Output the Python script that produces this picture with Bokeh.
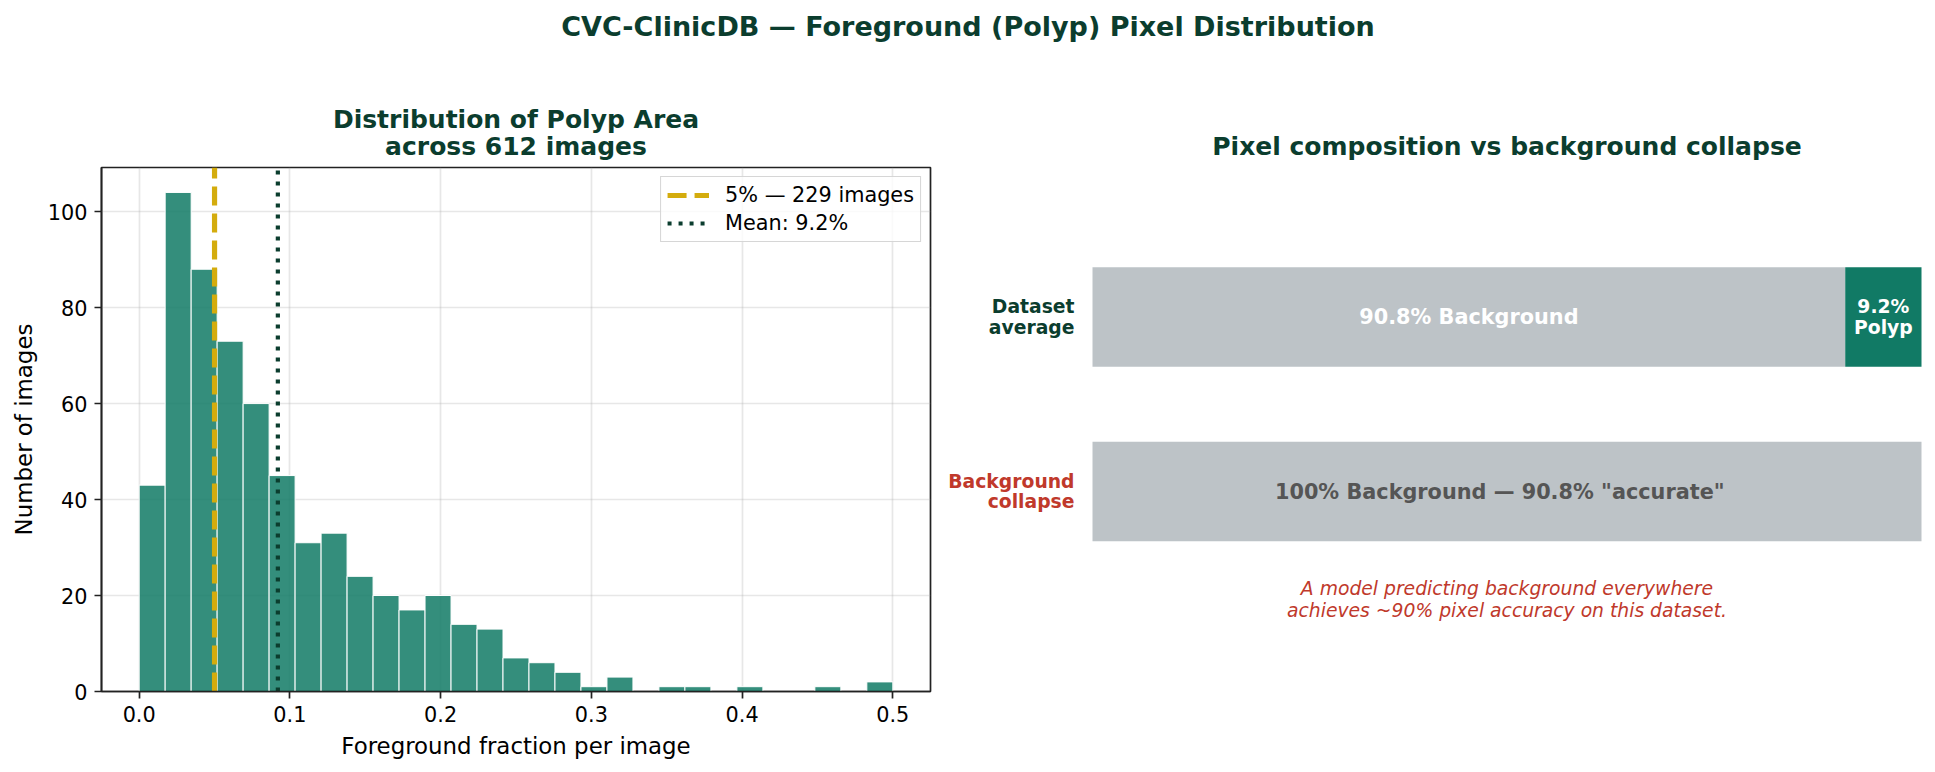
import numpy as np
from bokeh.plotting import figure
from bokeh.models import Range1d, FixedTicker, Legend, LegendItem
from bokeh.layouts import column, row
from bokeh.embed import file_html
from bokeh.resources import INLINE
from bokeh.core.properties import value

# ---------------- data ----------------
SUPTITLE = "CVC-ClinicDB — Foreground (Polyp) Pixel Distribution"
HIST_TITLE_LINES = ["Distribution of Polyp Area", "across 612 images"]
BAR_TITLE = "Pixel composition vs background collapse"

BIN_START, BIN_END, N_BINS = 0.0, 0.5, 29
BIN_COUNTS = [43, 104, 88, 73, 60, 45, 31, 33, 24, 20, 17, 20, 14, 13, 7, 6, 4,
              1, 3, 0, 1, 1, 0, 1, 0, 0, 1, 0, 2]
THRESHOLD = 0.05
THRESHOLD_LABEL = "5% — 229 images"
MEAN_FRAC = 0.092
MEAN_LABEL = "Mean: 9.2%"
X_TICKS = [0.0, 0.1, 0.2, 0.3, 0.4, 0.5]
X_TICK_LABELS = ["0.0", "0.1", "0.2", "0.3", "0.4", "0.5"]
Y_TICKS = [0, 20, 40, 60, 80, 100]
X_LABEL = "Foreground fraction per image"
Y_LABEL = "Number of images"

ROW_LABELS = ["Dataset\naverage", "Background\ncollapse"]
ROW_POS = [1, 0]
BACKGROUND_SHARE = [0.908, 1.0]
POLYP_SHARE = [0.092, 0.0]
BG_TEXT = ["90.8% Background", '100% Background  —  90.8% "accurate"']
POLYP_TEXT = "9.2%\nPolyp"
NOTE = "A model predicting background everywhere\nachieves ~90% pixel accuracy on this dataset."

# ---------------- styles ----------------
FONT = "DejaVu Sans"
DARK = "#0B3D2E"
RED = "#C0392B"
TEAL = "#117A65"
GOLD = "#D4AC0D"
GRAY = "#BDC3C7"
SPINE = "#222222"

TOTAL_W, TOTAL_H = 1935, 772
HEAD_H = 160
LEFT_W = 938
RIGHT_W = TOTAL_W - LEFT_W
BODY_H = TOTAL_H - HEAD_H

# ---------------- heading strip (suptitle + panel titles) ----------------
p0 = figure(width=TOTAL_W, height=HEAD_H, x_range=Range1d(0, TOTAL_W), y_range=Range1d(HEAD_H, 0),
            x_axis_location=None, y_axis_location=None, toolbar_location=None,
            output_backend="svg", min_border=0, outline_line_color=None)
p0.grid.visible = False
p0.text(x=[TOTAL_W / 2], y=[26], text=[SUPTITLE], text_align="center", text_baseline="middle",
        text_font=value(FONT), text_font_size="27px", text_font_style="bold", text_color=DARK)
p0.text(x=[515.5, 515.5, 1506.5], y=[118.5, 145.6, 145.6],
        text=HIST_TITLE_LINES + [BAR_TITLE], text_align="center", text_baseline="middle",
        text_font=value(FONT), text_font_size="25px", text_font_style="bold", text_color=DARK)

# ---------------- histogram ----------------
edges = np.linspace(BIN_START, BIN_END, N_BINS + 1)
ymax = max(BIN_COUNTS) * 1.05
xpad = (BIN_END - BIN_START) * 0.05

p1 = figure(width=LEFT_W, height=BODY_H, x_range=Range1d(BIN_START - xpad, BIN_END + xpad),
            y_range=Range1d(0, ymax), toolbar_location=None, output_backend="svg",
            min_border_left=101, min_border_right=LEFT_W - 930, min_border_top=7,
            min_border_bottom=81, title=None)

p1.quad(left=edges[:-1], right=edges[1:], bottom=0, top=BIN_COUNTS,
        fill_color=TEAL, fill_alpha=0.85, line_color="white", line_width=1)

r_thr = p1.segment(x0=[THRESHOLD], y0=[0], x1=[THRESHOLD], y1=[ymax],
                   line_color=GOLD, line_width=5.2, line_dash="19 8")
r_mean = p1.segment(x0=[MEAN_FRAC], y0=[0], x1=[MEAN_FRAC], y1=[ymax],
                    line_color=DARK, line_width=4.2, line_dash="4 7")

legend = Legend(items=[LegendItem(label=THRESHOLD_LABEL, renderers=[r_thr]),
                       LegendItem(label=MEAN_LABEL, renderers=[r_mean])],
                location="top_right", margin=9, padding=6, spacing=4,
                glyph_width=42, glyph_height=24, label_height=24, label_standoff=16,
                label_text_font=FONT, label_text_font_size="20.8px", label_text_color="black",
                border_line_color="#cccccc", border_line_width=1.5, border_line_alpha=0.8,
                background_fill_color="white", background_fill_alpha=0.8)
p1.add_layout(legend)

p1.xaxis.ticker = FixedTicker(ticks=X_TICKS)
p1.xaxis.major_label_overrides = dict(zip(X_TICKS, X_TICK_LABELS))
p1.yaxis.ticker = FixedTicker(ticks=Y_TICKS)
p1.xaxis.axis_label = X_LABEL
p1.yaxis.axis_label = Y_LABEL
for ax in (p1.xaxis[0], p1.yaxis[0]):
    ax.axis_line_color = SPINE
    ax.axis_line_width = 1.7
    ax.major_tick_line_color = SPINE
    ax.major_tick_line_width = 1.7
    ax.major_tick_out = 7
    ax.major_tick_in = 0
    ax.minor_tick_out = 0
    ax.minor_tick_in = 0
    ax.major_label_text_font = FONT
    ax.major_label_text_font_size = "20.8px"
    ax.major_label_text_color = "black"
    ax.major_label_standoff = 7
    ax.axis_label_text_font = FONT
    ax.axis_label_text_font_size = "22.9px"
    ax.axis_label_text_font_style = "normal"
    ax.axis_label_text_color = "black"
    ax.axis_label_standoff = 8
p1.grid.grid_line_color = "#b0b0b0"
p1.grid.grid_line_alpha = 0.3
p1.grid.grid_line_width = 1.7
p1.outline_line_color = SPINE
p1.outline_line_width = 1.7
p1.outline_line_alpha = 1.0

# ---------------- composition bars ----------------
PX_PER_UNIT_X = 829.0
X0_PX = 1092.0 - LEFT_W   # screen offset of value 0 inside the right canvas
PX_PER_UNIT_Y = 174.5
Y1_PX = 149.5             # screen offset of row 1 below frame top
FRAME_H = 524.0
x_start = -X0_PX / PX_PER_UNIT_X
x_end = (RIGHT_W - X0_PX) / PX_PER_UNIT_X
y_end = 1 + Y1_PX / PX_PER_UNIT_Y
y_start = y_end - FRAME_H / PX_PER_UNIT_Y

p2 = figure(width=RIGHT_W, height=BODY_H, x_range=Range1d(x_start, x_end), y_range=Range1d(y_start, y_end),
            x_axis_location=None, y_axis_location=None, toolbar_location=None,
            output_backend="svg", min_border_left=0, min_border_right=0,
            min_border_top=7, min_border_bottom=81, outline_line_color=None, title=None)
p2.grid.visible = False

BAR_H = 0.57
p2.hbar(y=ROW_POS, left=0, right=BACKGROUND_SHARE, height=BAR_H, fill_color=GRAY, line_color=None)
polyp_rows = [i for i, s in enumerate(POLYP_SHARE) if s > 0]
p2.hbar(y=[ROW_POS[i] for i in polyp_rows],
        left=[BACKGROUND_SHARE[i] for i in polyp_rows],
        right=[BACKGROUND_SHARE[i] + POLYP_SHARE[i] for i in polyp_rows],
        height=BAR_H, fill_color=TEAL, line_color=None)

p2.text(x=[b / 2 for b in BACKGROUND_SHARE], y=ROW_POS, text=BG_TEXT,
        text_color=["white", "#555555"], text_align="center", text_baseline="middle",
        text_font=value(FONT), text_font_size="20.8px", text_font_style="bold")
p2.text(x=[BACKGROUND_SHARE[i] + POLYP_SHARE[i] / 2 for i in polyp_rows],
        y=[ROW_POS[i] for i in polyp_rows], text=[POLYP_TEXT],
        text_color="white", text_align="center", text_baseline="middle",
        text_font=value(FONT), text_font_size="18.75px", text_font_style="bold",
        text_line_height=1.0)
p2.text(x=[0, 0], y=ROW_POS, text=ROW_LABELS, x_offset=-18,
        text_color=[DARK, RED], text_align="right", text_baseline="middle",
        text_font=value(FONT), text_font_size="18.75px", text_font_style="bold",
        text_line_height=0.97)
p2.text(x=[0.5], y=[-0.62], text=[NOTE], text_color=RED, text_align="center",
        text_baseline="middle", text_font=value(FONT), text_font_size="18.75px",
        text_font_style="italic", text_line_height=1.05)

layout = column(p0, row(p1, p2))
open("out.html", "w").write(file_html(layout, INLINE))
